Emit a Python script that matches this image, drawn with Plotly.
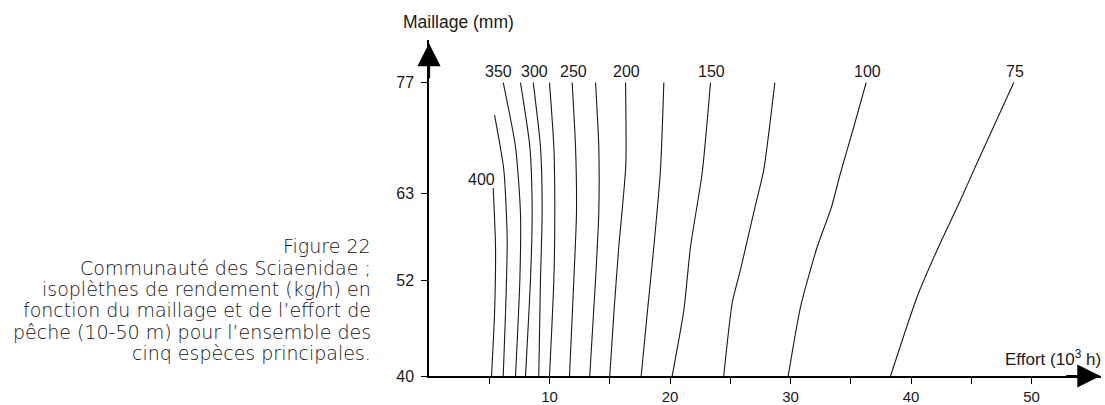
import plotly.graph_objects as go

# ---------------- data ----------------
levels = [400, 375, 350, 325, 300, 275, 250, 225, 200, 175, 150, 125, 100, 75]
labelled_levels = [400, 350, 300, 250, 200, 150, 100, 75]

iso_400_x = [5.33, 5.52, 5.44, 5.19]
iso_400_y = [63.7, 56.3, 47.9, 40.0]
iso_375_x = [5.44, 6.21, 6.49, 6.35, 6.16]
iso_375_y = [72.9, 66.0, 57.2, 47.9, 40.0]
iso_350_x = [6.16, 7.18, 7.59, 7.54, 7.18]
iso_350_y = [77.0, 68.9, 60.6, 52.1, 40.0]
iso_325_x = [7.59, 8.37, 8.56, 8.42, 8.01]
iso_325_y = [77.0, 68.9, 60.6, 52.1, 40.0]
iso_300_x = [8.65, 9.25, 9.39, 9.25, 9.11]
iso_300_y = [77.0, 68.9, 60.6, 52.1, 40.0]
iso_275_x = [10.0, 10.36, 10.44, 10.36, 10.0]
iso_275_y = [77.0, 68.9, 60.6, 52.1, 40.0]
iso_250_x = [11.88, 12.16, 12.24, 12.02, 11.66]
iso_250_y = [77.0, 68.9, 60.6, 52.1, 40.0]
iso_225_x = [13.82, 14.09, 14.09, 13.82, 13.34]
iso_225_y = [77.0, 68.9, 60.6, 52.1, 40.0]
iso_200_x = [16.31, 16.33, 15.75, 15.34, 15.0]
iso_200_y = [77.0, 66.5, 56.3, 47.9, 40.0]
iso_175_x = [19.49, 19.21, 18.66, 18.11, 17.61]
iso_175_y = [77.0, 66.0, 56.3, 47.9, 40.0]
iso_150_x = [23.36, 22.67, 21.70, 21.15, 20.18]
iso_150_y = [77.0, 65.6, 56.3, 48.3, 40.0]
iso_125_x = [28.70, 27.78, 27.04, 25.85, 25.16, 24.46]
iso_125_y = [77.0, 66.0, 61.2, 53.4, 49.2, 40.0]
iso_100_x = [36.28, 35.25, 34.15, 33.38, 32.22, 30.83, 29.81]
iso_100_y = [77.0, 71.4, 65.6, 61.2, 56.3, 48.7, 40.0]
iso_75_x = [48.53, 45.49, 44.11, 42.17, 40.51, 38.30]
iso_75_y = [77.0, 66.9, 62.2, 55.9, 50.0, 40.0]

x_tick_vals = [5, 10, 15, 20, 25, 30, 35, 40, 45, 50]
x_tick_text = ["", "10", "", "20", "", "30", "", "40", "", "50"]
y_tick_vals = [40, 52, 63, 77]
y_tick_text = ["40", "52", "63", "77"]

caption_lines = [
    "Figure 22",
    "Communauté des Sciaenidae ;",
    "isoplèthes de rendement (kg/h) en",
    "fonction du maillage et de l’effort de",
    "pêche (10-50 m) pour l’ensemble des",
    "cinq espèces principales.",
]
y_title = "Maillage (mm)"
x_title = "Effort (10<sup>3</sup> h)"

iso_x = {400: iso_400_x, 375: iso_375_x, 350: iso_350_x, 325: iso_325_x,
         300: iso_300_x, 275: iso_275_x, 250: iso_250_x, 225: iso_225_x,
         200: iso_200_x, 175: iso_175_x, 150: iso_150_x, 125: iso_125_x,
         100: iso_100_x, 75: iso_75_x}
iso_y = {400: iso_400_y, 375: iso_375_y, 350: iso_350_y, 325: iso_325_y,
         300: iso_300_y, 275: iso_275_y, 250: iso_250_y, 225: iso_225_y,
         200: iso_200_y, 175: iso_175_y, 150: iso_150_y, 125: iso_125_y,
         100: iso_100_y, 75: iso_75_y}

# ---------------- figure ----------------
W, H = 1105, 405
ML, MR, MT, MB = 429, 4, 40, 29
PW, PH = W - ML - MR, H - MT - MB
X_MAX = PW / 12.05
Y_MAX = 40 + PH / 7.93

TXT = "Liberation Sans, Arial, sans-serif"
INK = "#1a1a1a"

fig = go.Figure()
for lv in levels:
    fig.add_trace(go.Scatter(
        x=iso_x[lv], y=iso_y[lv], mode="lines",
        line=dict(color=INK, width=1.1, shape="spline", smoothing=0.6),
        hoverinfo="skip", showlegend=False,
    ))

ann = []
for lv in labelled_levels:
    xs, ys = iso_x[lv], iso_y[lv]
    top = max(range(len(ys)), key=lambda i: ys[i])
    if lv == 400:
        ann.append(dict(x=xs[top], y=ys[top], xref="x", yref="y", text=str(lv),
                        showarrow=False, xanchor="center", yanchor="bottom",
                        xshift=-12, yshift=-2, font=dict(family=TXT, size=16, color=INK)))
    else:
        ann.append(dict(x=xs[top], y=ys[top], xref="x", yref="y", text=str(lv),
                        showarrow=False, xanchor="center", yanchor="bottom",
                        xshift=-5 if lv == 350 else 1, yshift=1,
                        font=dict(family=TXT, size=16, color=INK)))

# axis arrows
ann.append(dict(x=X_MAX - 0.05, y=40, ax=X_MAX - 3, ay=40, xref="x", yref="y",
                axref="x", ayref="y", showarrow=True, arrowhead=2, arrowsize=2.1,
                arrowwidth=2.2, arrowcolor="#000", text=""))
ann.append(dict(x=0, y=Y_MAX - 0.4, ax=0, ay=Y_MAX - 5, xref="x", yref="y",
                axref="x", ayref="y", showarrow=True, arrowhead=2, arrowsize=2.1,
                arrowwidth=2.2, arrowcolor="#000", text=""))

# axis titles
ann.append(dict(x=(401 - ML) / PW, y=(H - MB - 22) / PH, xref="paper", yref="paper",
                text=y_title, showarrow=False, xanchor="left", yanchor="middle",
                font=dict(family=TXT, size=17.5, color=INK)))
ann.append(dict(x=(1103 - ML) / PW, y=(H - MB - 358) / PH, xref="paper", yref="paper",
                text=x_title, showarrow=False, xanchor="right", yanchor="middle",
                font=dict(family=TXT, size=17, color=INK)))

# caption
cap_y = [246, 268, 289, 310, 332, 353]
for t, py in zip(caption_lines, cap_y):
    ann.append(dict(x=(373 - ML) / PW, y=(H - MB - py) / PH, xref="paper", yref="paper",
                    text=t, showarrow=False, xanchor="right", yanchor="middle",
                    font=dict(family="DejaVu Sans", size=19, color="#111111", weight=300)))

fig.update_layout(
    width=W, height=H,
    margin=dict(l=ML, r=MR, t=MT, b=MB, pad=0, autoexpand=False),
    paper_bgcolor="white", plot_bgcolor="white",
    annotations=ann,
    xaxis=dict(range=[0, X_MAX], showgrid=False, zeroline=False, automargin=False,
               showline=True, linecolor="#000", linewidth=1.5,
               tickmode="array", tickvals=x_tick_vals, ticktext=x_tick_text,
               ticks="outside", ticklen=6, tickwidth=1.3, tickcolor="#000",
               ticklabelstandoff=0,
               tickfont=dict(family=TXT, size=15, color=INK)),
    yaxis=dict(range=[40, Y_MAX], showgrid=False, zeroline=False, automargin=False,
               showline=True, linecolor="#000", linewidth=1.5,
               tickmode="array", tickvals=y_tick_vals, ticktext=y_tick_text,
               ticks="outside", ticklen=6, tickwidth=1.3, tickcolor="#000",
               ticklabelstandoff=4,
               tickfont=dict(family=TXT, size=16, color=INK)),
)

fig.write_html("out.html")
